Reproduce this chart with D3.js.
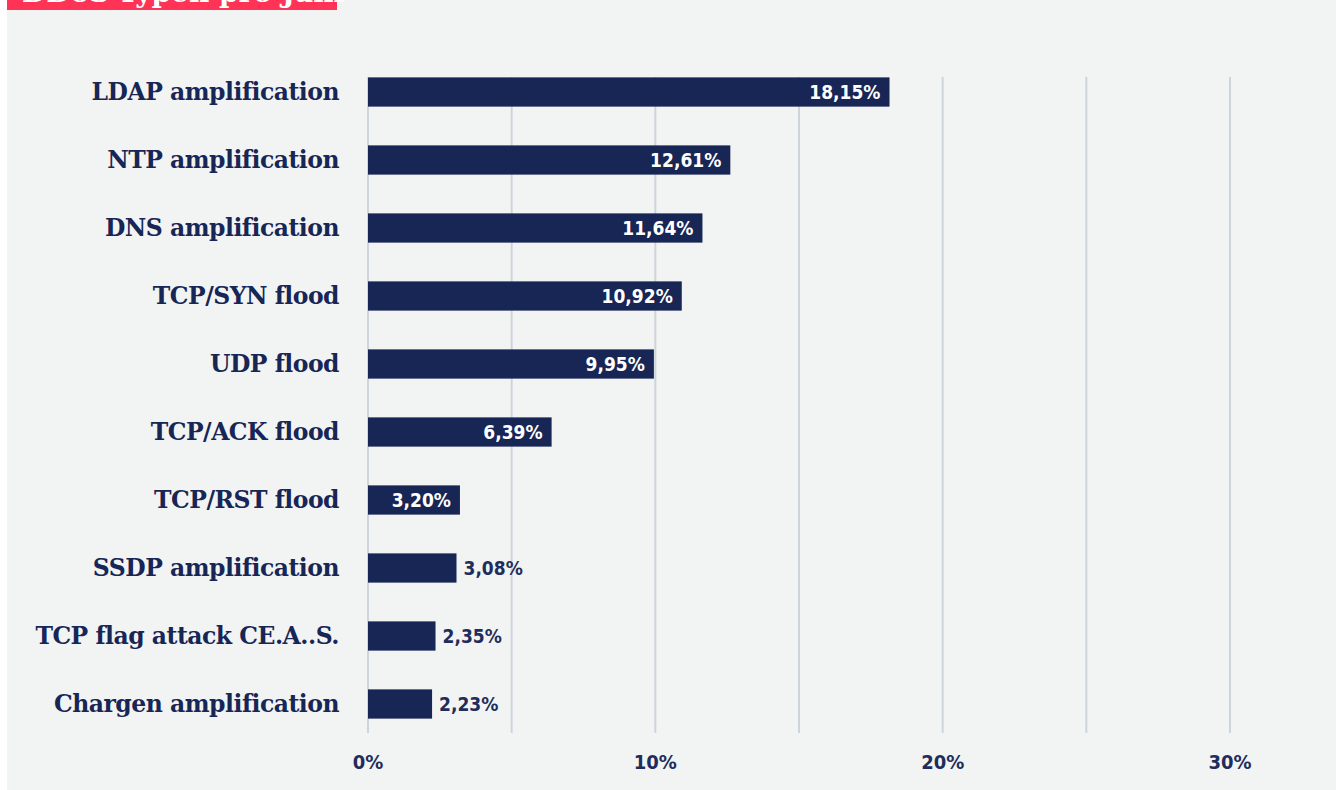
<!DOCTYPE html>
<html>
<head>
<meta charset="utf-8">
<script src="https://cdn.jsdelivr.net/npm/d3@7"></script>
<style>
  html, body { margin: 0; padding: 0; background: #ffffff; }
  svg { display: block; }
  .cat { font-family: "DejaVu Serif", "Liberation Serif", serif; font-weight: bold; }
  .num { font-family: "Liberation Sans Narrow", "DejaVu Sans Condensed", "Roboto", sans-serif; font-weight: bold; }
</style>
</head>
<body>
<div id="chart"></div>
<script>
// data
var categories = ["LDAP amplification", "NTP amplification", "DNS amplification", "TCP/SYN flood", "UDP flood",
                  "TCP/ACK flood", "TCP/RST flood", "SSDP amplification", "TCP flag attack CE.A..S.", "Chargen amplification"];
var shares = [18.15, 12.61, 11.64, 10.92, 9.95, 6.39, 3.20, 3.08, 2.35, 2.23];
var gridTicks = [0, 5, 10, 15, 20, 25, 30];
var labelTicks = [0, 10, 20, 30];
var title = "DDoS-Typen pro Jahr";
var insideMin = 3.1;

const width = 1336, height = 790;
const navy = "#172655";

const svg = d3.select("#chart").append("svg")
    .attr("width", width)
    .attr("height", height);

svg.append("rect")
    .attr("x", 7).attr("y", 0)
    .attr("width", width - 7).attr("height", height)
    .attr("fill", "#f2f4f4");

// red title box, cut off at the top of the picture
svg.append("rect")
    .attr("x", 7).attr("y", 0)
    .attr("width", 330).attr("height", 10)
    .attr("fill", "#ff3355");
svg.append("text")
    .attr("class", "cat")
    .attr("x", 22).attr("y", 2)
    .attr("fill", "#fff")
    .style("font-size", "28px")
    .text(title);

var x = d3.scaleLinear().domain([0, 30]).range([368, 1230]);
var y = d3.scaleBand().domain(categories).range([58, 738])
    .paddingInner(0.57).paddingOuter(0.285);

// grid
svg.selectAll("line.grid")
    .data(gridTicks)
    .enter()
    .append("line")
    .attr("class", "grid")
    .attr("x1", function(d) { return x(d); })
    .attr("x2", function(d) { return x(d); })
    .attr("y1", 77)
    .attr("y2", 733)
    .attr("stroke", "#cdd4de")
    .attr("stroke-width", 2);

// tick labels
svg.selectAll("text.tick")
    .data(labelTicks)
    .enter()
    .append("text")
    .attr("class", "num")
    .attr("x", function(d) { return x(d); })
    .attr("y", 769)
    .attr("text-anchor", "middle")
    .attr("fill", "#1f2d5c")
    .style("font-size", "20px")
    .text(function(d) { return d + "%"; });

// bars
svg.selectAll("rect.bar")
    .data(shares)
    .enter()
    .append("rect")
    .attr("class", "bar")
    .attr("x", x(0))
    .attr("y", function(d, i) { return y(categories[i]); })
    .attr("width", function(d) { return x(d) - x(0); })
    .attr("height", y.bandwidth())
    .attr("fill", navy);

// category labels
svg.selectAll("text.label")
    .data(categories)
    .enter()
    .append("text")
    .attr("class", "cat")
    .attr("x", 339)
    .attr("y", function(d) { return y(d) + y.bandwidth() / 2; })
    .attr("dy", "0.36em")
    .attr("text-anchor", "end")
    .attr("fill", navy)
    .style("font-size", "23.5px")
    .style("letter-spacing", "-0.5px")
    .text(function(d) { return d; });

// value labels
svg.selectAll("text.value")
    .data(shares)
    .enter()
    .append("text")
    .attr("class", "num")
    .attr("x", function(d) { return d > insideMin ? x(d) - 9 : x(d) + 7; })
    .attr("y", function(d, i) { return y(categories[i]) + y.bandwidth() / 2; })
    .attr("dy", "0.36em")
    .attr("text-anchor", function(d) { return d > insideMin ? "end" : "start"; })
    .attr("fill", function(d) { return d > insideMin ? "#fff" : "#1f2d5c"; })
    .style("font-size", "19px")
    .text(function(d) { return d.toFixed(2).replace(".", ",") + "%"; });
</script>
</body>
</html>
